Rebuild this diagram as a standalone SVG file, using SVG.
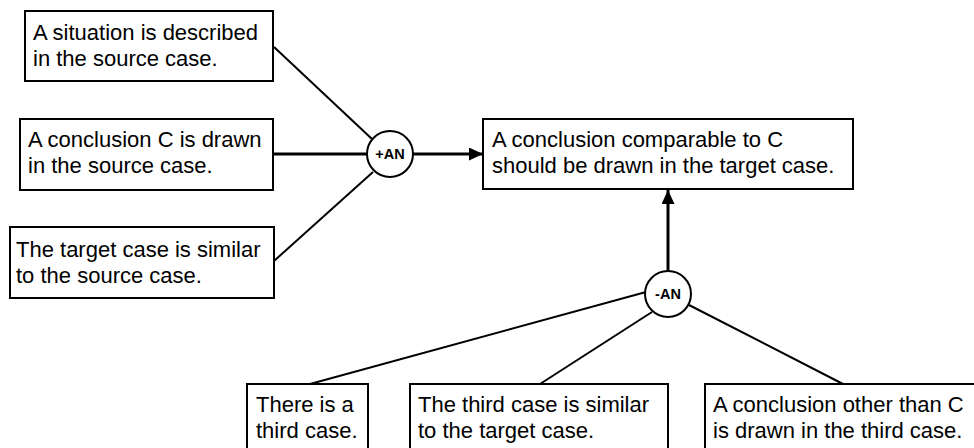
<svg xmlns="http://www.w3.org/2000/svg" width="974" height="448" viewBox="0 0 974 448">
<style>
.box{fill:#fff;stroke:#000;stroke-width:2}
.t{font-family:"Liberation Sans",Arial,sans-serif;font-size:22px;fill:#000}
.c{fill:#fff;stroke:#000;stroke-width:2}
.ct{font-family:"Liberation Sans",Arial,sans-serif;font-size:14.5px;font-weight:bold;fill:#000;text-anchor:middle}
.ln{stroke:#000;stroke-width:2;fill:none}
.thick{stroke:#000;stroke-width:3;fill:none}
</style>
<defs>
<marker id="ah" markerWidth="14" markerHeight="13" refX="14" refY="6.5" orient="auto" markerUnits="userSpaceOnUse">
<path d="M0,0 L14,6.5 L0,13 Z" fill="#000"/>
</marker>
</defs>
<rect width="974" height="448" fill="#fff"/>
<g id="connectors">
<line class="ln" x1="274" y1="47" x2="372" y2="139"/>
<line class="thick" x1="274" y1="154" x2="367" y2="154"/>
<line class="ln" x1="274" y1="261" x2="373" y2="172"/>
<line class="thick" x1="413" y1="154" x2="483" y2="154" marker-end="url(#ah)"/>
<line class="thick" x1="668" y1="271" x2="668" y2="190" marker-end="url(#ah)"/>
<line class="ln" x1="310" y1="384" x2="646" y2="292"/>
<line class="ln" x1="540" y1="384" x2="652" y2="312"/>
<line class="ln" x1="843" y1="384" x2="689" y2="305"/>
</g>
<g id="n1"><rect class="box" x="25" y="11" width="248" height="70"/><text class="t" x="33" y="40">A situation is described</text><text class="t" x="33" y="66">in the source case.</text></g>
<g id="n2"><rect class="box" x="20" y="119" width="253" height="71"/><text class="t" x="28" y="147">A conclusion C is drawn</text><text class="t" x="28" y="173">in the source case.</text></g>
<g id="n3"><rect class="box" x="10" y="227" width="264" height="71"/><text class="t" x="16" y="257">The target case is similar</text><text class="t" x="16" y="283">to the source case.</text></g>
<g id="plusAN"><circle class="c" cx="390" cy="154" r="23"/><text class="ct" x="390" y="159">+AN</text></g>
<g id="target"><rect class="box" x="483" y="119" width="370" height="70"/><text class="t" x="492" y="147">A conclusion comparable to C</text><text class="t" x="492" y="173">should be drawn in the target case.</text></g>
<g id="minusAN"><circle class="c" cx="668" cy="294" r="23"/><text class="ct" x="668" y="299">-AN</text></g>
<g id="b1"><rect class="box" x="247" y="384" width="121" height="80"/><text class="t" x="256" y="412">There is a</text><text class="t" x="256" y="438">third case.</text></g>
<g id="b2"><rect class="box" x="410" y="384" width="258" height="80"/><text class="t" x="418" y="412">The third case is similar</text><text class="t" x="418" y="438">to the target case.</text></g>
<g id="b3"><rect class="box" x="705" y="384" width="280" height="80"/><text class="t" x="713" y="412">A conclusion other than C</text><text class="t" x="713" y="438">is drawn in the third case.</text></g>
</svg>
